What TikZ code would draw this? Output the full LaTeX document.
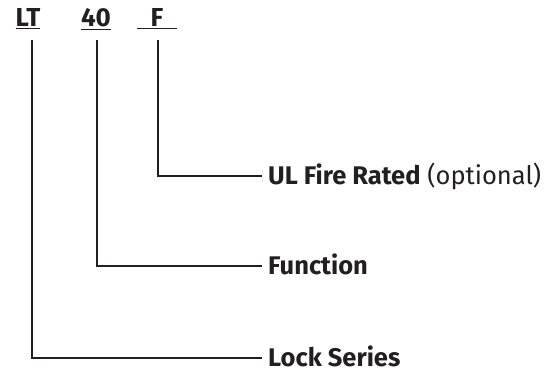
\documentclass[tikz,border=0pt]{standalone}
\usepackage{fontspec}
\setmainfont{Fira Sans}
\definecolor{ink}{HTML}{231F20}
\begin{document}
\begin{tikzpicture}[x=1pt,y=-1pt,
  lead/.style={draw=ink,line width=2.4pt},
  code/.style={inner sep=0pt,font=\fontsize{26}{28}\selectfont\bfseries,text=ink,anchor=base},
  lab/.style={inner sep=0pt,anchor=base west,font=\fontsize{25.5}{28}\selectfont,text=ink}]
\useasboundingbox (0,0) rectangle (549,372);
\node[code] (lt) at (28,27) {\underline{LT}};
\node[code] (n40) at (96,27) {\underline{40}};
\node[code] (f) at (157,27) {\underline{\phantom{x}F\phantom{x}}};
\coordinate (ltb) at (32,40);
\coordinate (n40b) at (97,40);
\coordinate (fb) at (158,40);
\node[lab] (ul) at (268,184) {\textbf{UL Fire Rated} (optional)};
\node[lab] (fn) at (268,274) {\textbf{Function}};
\node[lab] (ls) at (268,366) {\textbf{Lock Series}};
\draw[lead] (fb) |- (262,176);
\draw[lead] (n40b) |- (262,266);
\draw[lead] (ltb) |- (262,358);
\end{tikzpicture}
\end{document}
